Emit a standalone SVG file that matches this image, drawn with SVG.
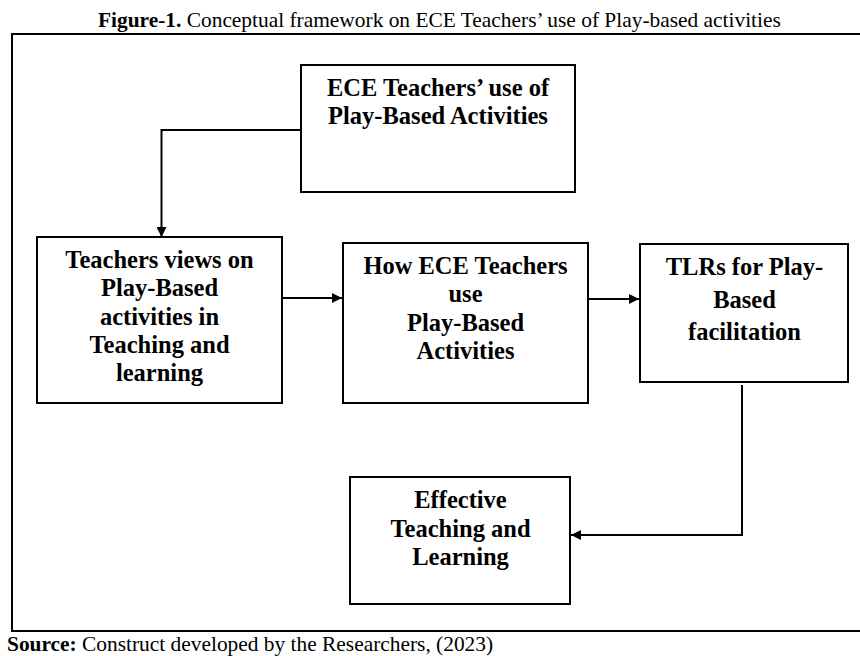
<svg xmlns="http://www.w3.org/2000/svg" width="860" height="656" viewBox="0 0 860 656">
  <style>
    .frame { fill: none; stroke: #000; stroke-width: 2; }
    .box rect { fill: #fff; stroke: #000; stroke-width: 2; }
    .box text { font-family: "Liberation Serif", "Times New Roman", serif; font-weight: bold; font-size: 24.5px; fill: #000; text-anchor: middle; }
    .caption { font-family: "Liberation Serif", "Times New Roman", serif; font-size: 21.4px; fill: #000; }
    .caption .b { font-weight: bold; }
    .link { fill: none; stroke: #000; stroke-width: 2; }
  </style>
  <defs>
    <marker id="arrow" viewBox="0 0 10 10" refX="10" refY="5" markerWidth="5.5" markerHeight="5" markerUnits="strokeWidth" orient="auto">
      <path d="M0,0 L10,5 L0,10 z" fill="#000"/>
    </marker>
  </defs>
  <rect width="860" height="656" fill="#fff"/>

  <!-- title -->
  <text class="caption" x="98" y="27"><tspan class="b">Figure-1.</tspan> Conceptual framework on ECE Teachers’ use of Play-based activities</text>

  <!-- outer frame (right edge runs past the canvas) -->
  <rect class="frame" x="12" y="34" width="860" height="597"/>

  <!-- connectors -->
  <g id="connectors">
    <polyline class="link" points="301,130 161.5,130 161.5,237" marker-end="url(#arrow)"/>
    <line class="link" x1="282" y1="298" x2="342" y2="298" marker-end="url(#arrow)"/>
    <line class="link" x1="588" y1="299" x2="639" y2="299" marker-end="url(#arrow)"/>
    <polyline class="link" points="742,385 742,535 571,535" marker-end="url(#arrow)"/>
  </g>

  <g id="node-use" class="box">
    <rect x="301" y="65" width="274" height="127"/>
    <text x="438" y="96">ECE Teachers’ use of</text>
    <text x="438" y="123.5">Play-Based Activities</text>
  </g>

  <g id="node-views" class="box">
    <rect x="37" y="237" width="245" height="166"/>
    <text x="159.5" y="268">Teachers views on</text>
    <text x="159.5" y="296.3">Play-Based</text>
    <text x="159.5" y="324.6">activities in</text>
    <text x="159.5" y="353">Teaching and</text>
    <text x="159.5" y="381.3">learning</text>
  </g>

  <g id="node-how" class="box">
    <rect x="343" y="243" width="245" height="160"/>
    <text x="465.5" y="273.5">How ECE Teachers</text>
    <text x="465.5" y="302">use</text>
    <text x="465.5" y="330.5">Play-Based</text>
    <text x="465.5" y="358.5">Activities</text>
  </g>

  <g id="node-tlrs" class="box">
    <rect x="640" y="244" width="208" height="138"/>
    <text x="744.5" y="275">TLRs for Play-</text>
    <text x="744.5" y="307.5">Based</text>
    <text x="744.5" y="339.5">facilitation</text>
  </g>

  <g id="node-effective" class="box">
    <rect x="350" y="477" width="220" height="127"/>
    <text x="460.5" y="508.3">Effective</text>
    <text x="460.5" y="536.7">Teaching and</text>
    <text x="460.5" y="565">Learning</text>
  </g>

  <!-- source note -->
  <text class="caption" x="7" y="650.5"><tspan class="b">Source:</tspan> Construct developed by the Researchers, (2023)</text>
</svg>
